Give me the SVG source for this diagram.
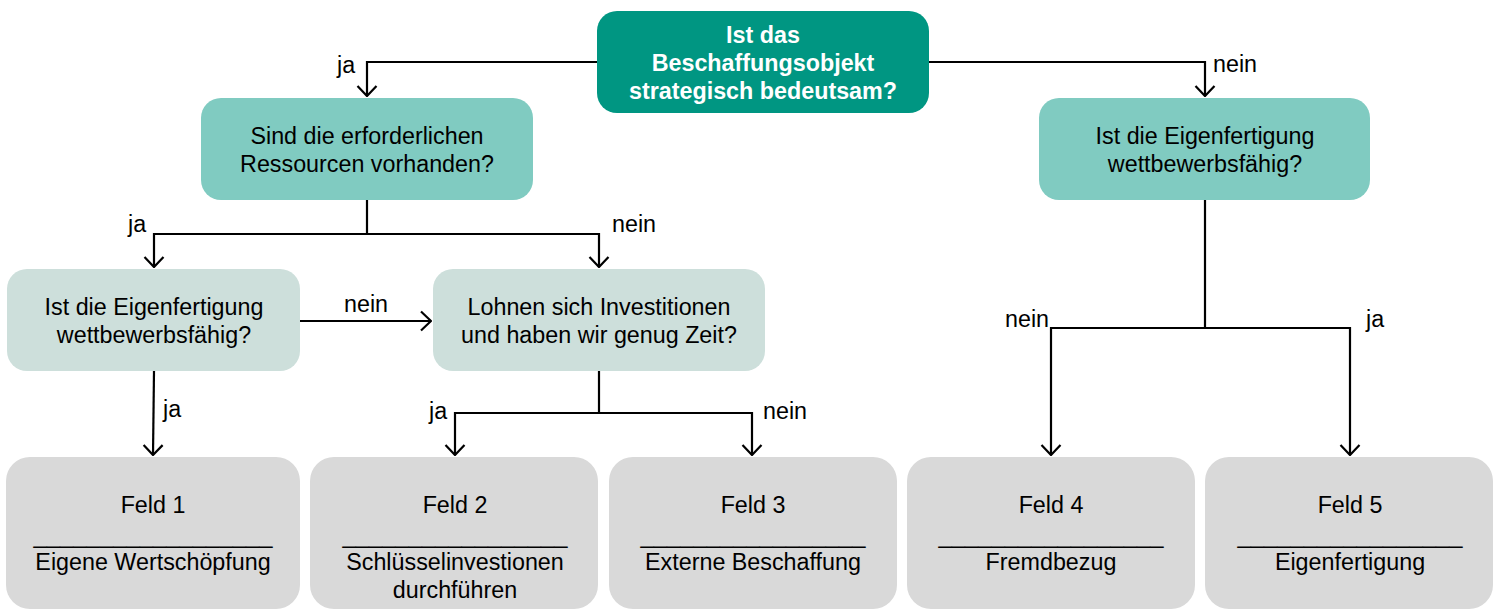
<svg xmlns="http://www.w3.org/2000/svg" width="1499" height="613" viewBox="0 0 1499 613">
<style>
text{font-family:"Liberation Sans",Arial,sans-serif;font-size:23.3px;fill:#000;text-anchor:middle}
.b{font-weight:bold;fill:#fff}
.l{text-anchor:start}
.c{fill:none;stroke:#000;stroke-width:2.2}
.n0{fill:#009682}
.n1{fill:#80cbc1}
.n2{fill:#cddfdb}
.n3{fill:#d9d9d9}
</style>
<defs>
<marker id="ah" markerUnits="userSpaceOnUse" viewBox="0 0 12 22" refX="11" refY="11" markerWidth="12" markerHeight="22" orient="auto">
<path d="M1,1.5 L11,11 L1,20.5" fill="none" stroke="#000" stroke-width="2.2"/>
</marker>
</defs>
<rect width="1499" height="613" fill="#fff"/>
<g id="connectors">
<path class="c" d="M597,62 H367 V96" marker-end="url(#ah)"/>
<path class="c" d="M929,62 H1205 V96" marker-end="url(#ah)"/>
<path class="c" d="M367,200 V234 H154 V267" marker-end="url(#ah)"/>
<path class="c" d="M367,234 H599 V267" marker-end="url(#ah)"/>
<path class="c" d="M300,321 H431" marker-end="url(#ah)"/>
<path class="c" d="M154,371 L153,455" marker-end="url(#ah)"/>
<path class="c" d="M599,371 V413 H455 V455" marker-end="url(#ah)"/>
<path class="c" d="M599,413 H752 V455" marker-end="url(#ah)"/>
<path class="c" d="M1205,200 V328 H1051 V455" marker-end="url(#ah)"/>
<path class="c" d="M1205,328 H1350 V455" marker-end="url(#ah)"/>
<text class="l" x="337" y="73">ja</text>
<text class="l" x="1213" y="72">nein</text>
<text class="l" x="128" y="232">ja</text>
<text class="l" x="612" y="232">nein</text>
<text class="l" x="344" y="312">nein</text>
<text class="l" x="163" y="417">ja</text>
<text class="l" x="429" y="419">ja</text>
<text class="l" x="763" y="419">nein</text>
<text class="l" x="1005" y="327">nein</text>
<text class="l" x="1366" y="327">ja</text>
</g>
<g id="n-top">
<rect class="n0" x="597" y="11" width="332" height="102" rx="20"/>
<text class="b" x="763" y="43">Ist das</text>
<text class="b" x="763" y="71">Beschaffungsobjekt</text>
<text class="b" x="763" y="99">strategisch bedeutsam?</text>
</g>
<g id="n-ressourcen">
<rect class="n1" x="201" y="98" width="332" height="102" rx="20"/>
<text x="367" y="144">Sind die erforderlichen</text>
<text x="367" y="172">Ressourcen vorhanden?</text>
</g>
<g id="n-eigen-rechts">
<rect class="n1" x="1039" y="98" width="331" height="102" rx="20"/>
<text x="1205" y="144">Ist die Eigenfertigung</text>
<text x="1205" y="172">wettbewerbsfähig?</text>
</g>
<g id="n-eigen-links">
<rect class="n2" x="7" y="269" width="293" height="102" rx="20"/>
<text x="154" y="315">Ist die Eigenfertigung</text>
<text x="154" y="343">wettbewerbsfähig?</text>
</g>
<g id="n-lohnen">
<rect class="n2" x="433" y="269" width="332" height="102" rx="20"/>
<text x="599" y="315">Lohnen sich Investitionen</text>
<text x="599" y="343">und haben wir genug Zeit?</text>
</g>
<g id="f1">
<rect class="n3" x="6" y="457" width="294" height="152" rx="24"/>
<text x="153" y="513">Feld 1</text>
<text x="153" y="543" textLength="239" lengthAdjust="spacingAndGlyphs">__________________</text>
<text x="153" y="570">Eigene Wertschöpfung</text>
</g>
<g id="f2">
<rect class="n3" x="310" y="457" width="288" height="152" rx="24"/>
<text x="455" y="513">Feld 2</text>
<text x="455" y="543" textLength="225" lengthAdjust="spacingAndGlyphs">_________________</text>
<text x="455" y="570">Schlüsselinvestionen</text>
<text x="455" y="598">durchführen</text>
</g>
<g id="f3">
<rect class="n3" x="609" y="457" width="288" height="152" rx="24"/>
<text x="753" y="513">Feld 3</text>
<text x="753" y="543" textLength="225" lengthAdjust="spacingAndGlyphs">_________________</text>
<text x="753" y="570">Externe Beschaffung</text>
</g>
<g id="f4">
<rect class="n3" x="907" y="457" width="288" height="152" rx="24"/>
<text x="1051" y="513">Feld 4</text>
<text x="1051" y="543" textLength="225" lengthAdjust="spacingAndGlyphs">_________________</text>
<text x="1051" y="570">Fremdbezug</text>
</g>
<g id="f5">
<rect class="n3" x="1205" y="457" width="288" height="152" rx="24"/>
<text x="1350" y="513">Feld 5</text>
<text x="1350" y="543" textLength="225" lengthAdjust="spacingAndGlyphs">_________________</text>
<text x="1350" y="570">Eigenfertigung</text>
</g>
</svg>
